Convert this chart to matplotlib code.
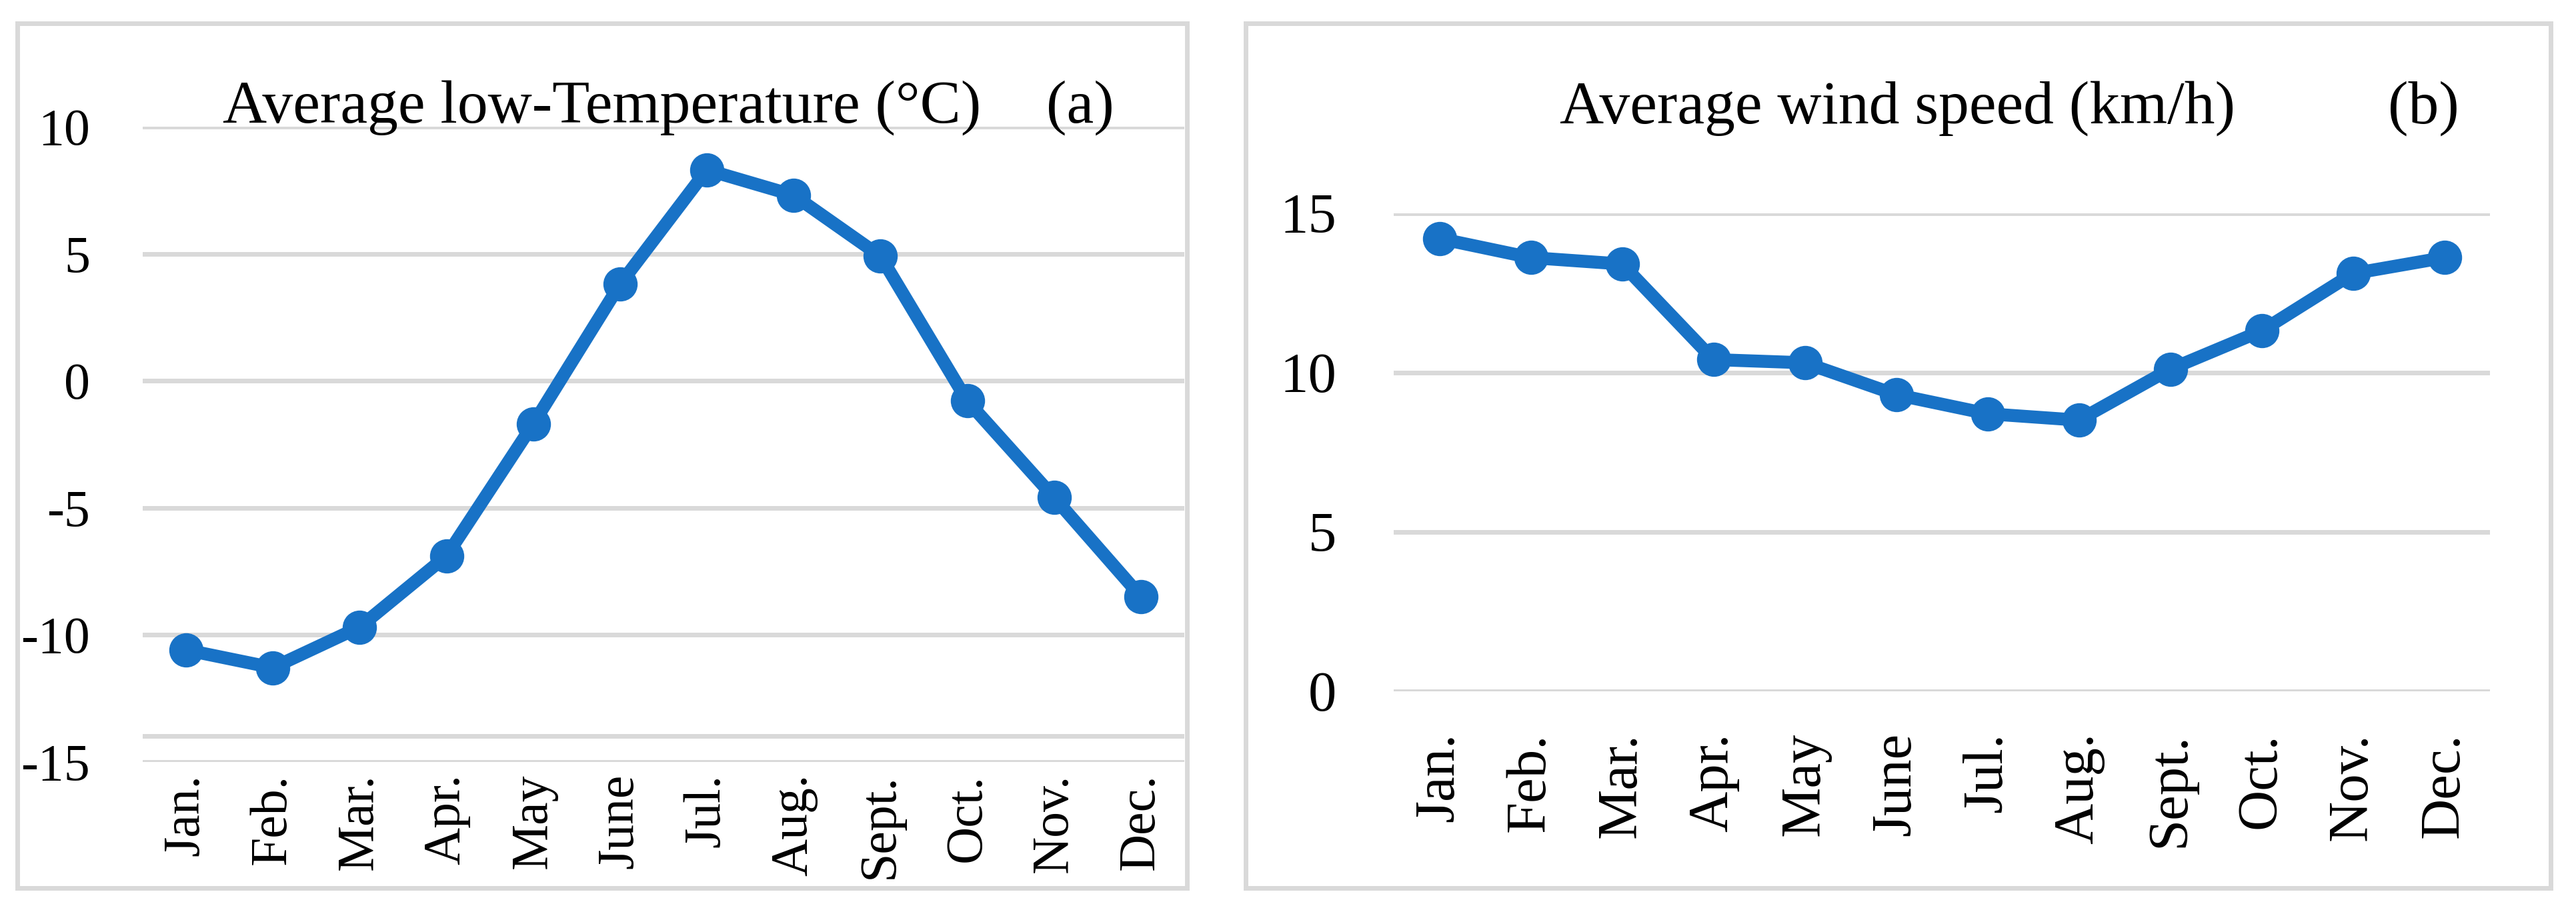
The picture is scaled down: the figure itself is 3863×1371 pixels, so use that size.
import matplotlib
matplotlib.use("Agg")
import matplotlib.pyplot as plt
from matplotlib.patches import Rectangle

months = ["Jan.", "Feb.", "Mar.", "Apr.", "May", "June", "Jul.", "Aug.", "Sept.", "Oct.", "Nov.", "Dec."]
low_temp = [-10.6, -11.3, -9.7, -6.9, -1.7, 3.8, 8.3, 7.3, 4.9, -0.8, -4.6, -8.5]
wind_speed = [14.2, 13.6, 13.4, 10.4, 10.3, 9.3, 8.7, 8.5, 10.1, 11.3, 13.1, 13.6]
temp_ticks = [-15, -10, -5, 0, 5, 10]
wind_ticks = [0, 5, 10, 15]

W, H = 3863, 1371
DPI = 100
plt.rcParams['font.family'] = ['Liberation Serif', 'DejaVu Serif']

fig = plt.figure(figsize=(W / DPI, H / DPI), dpi=DPI)
fig.patch.set_facecolor('white')

BLUE = '#1872C6'
GRID = '#D9D9D9'


def fx(px):
    return px / W


def fy(py):
    return 1 - py / H


# panel borders
for x0, x1 in [(25.5, 1779.5), (1868, 3824.5)]:
    y0, y1 = 34.5, 1331.5
    fig.add_artist(Rectangle((fx(x0), fy(y1)), fx(x1) - fx(x0), fy(y0) - fy(y1),
                             transform=fig.transFigure, fill=False,
                             edgecolor=GRID, linewidth=5.0, zorder=0))

ax1 = fig.add_axes([fx(214), fy(1142.5), fx(1776) - fx(214), fy(190) - fy(1142.5)])
ax2 = fig.add_axes([fx(2090), fy(1036.5), fx(3734) - fx(2090), fy(319.5) - fy(1036.5)])

x = list(range(len(months)))


def style(ax, ticks, ylim, fs, ypad, xpad):
    ax.set_xlim(-0.5, len(months) - 0.5)
    ax.set_ylim(*ylim)
    ax.set_yticks(ticks)
    ax.set_yticklabels([str(t) for t in ticks])
    ax.set_xticks(x)
    ax.set_xticklabels(months, rotation=90)
    for s in ax.spines.values():
        s.set_visible(False)
    ax.tick_params(axis='both', length=0, labelsize=fs, colors='black')
    ax.tick_params(axis='y', pad=ypad)
    ax.tick_params(axis='x', pad=xpad)
    for t in ticks:
        ax.axhline(t, color=GRID, linewidth=5, zorder=1)
    ax.set_facecolor('none')


style(ax1, temp_ticks, (-15, 10), 56, 57, 13)
ax1.axhline(-14, color=GRID, linewidth=5, zorder=1)
style(ax2, wind_ticks, (0, 15), 61, 62, 45)

for ax, data in [(ax1, low_temp), (ax2, wind_speed)]:
    ax.plot(x, data, color=BLUE, linewidth=14, marker='o', markersize=36,
            markerfacecolor=BLUE, markeredgecolor=BLUE, zorder=3, clip_on=False,
            solid_joinstyle='round', solid_capstyle='round')

fig.text(fx(903), fy(184), "Average low-Temperature (°C)", fontsize=66,
         ha='center', va='baseline')
fig.text(fx(1620), fy(184), "(a)", fontsize=66, ha='center', va='baseline')
fig.text(fx(2845), fy(185), "Average wind speed (km/h)", fontsize=66,
         ha='center', va='baseline')
fig.text(fx(3634), fy(185), "(b)", fontsize=66, ha='center', va='baseline')

fig.savefig("out.png", dpi=DPI, facecolor='white')
